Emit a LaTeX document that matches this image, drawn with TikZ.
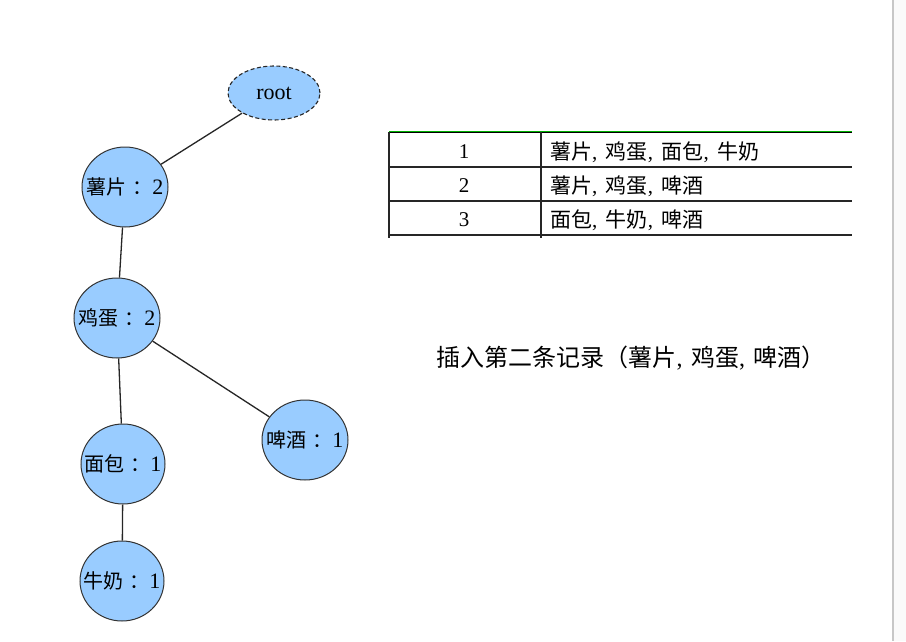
\documentclass[tikz,border=0pt]{standalone}
\usepackage{fontspec}
\usetikzlibrary{shapes.geometric}
\setmainfont{Liberation Serif}
\newfontfamily\cjk{Noto Sans CJK SC}
\definecolor{bluefill}{RGB}{153,204,255}
\newcommand{\lbl}[2]{\makebox[0pt]{{\cjk #1}\hspace{0.28em}{\cjk ：}{\fontsize{22}{24}\selectfont #2}}}
\begin{document}
\begin{tikzpicture}[x=1pt,y=-1pt,
  tnode/.style={ellipse,draw=black!80,fill=bluefill,line width=1pt,minimum width=86pt,minimum height=80pt,inner sep=0pt,font=\fontsize{20}{22}\selectfont},
  edge/.style={draw=black!85,line width=1.3pt},
  cell/.style={font=\fontsize{21}{24}\selectfont,inner sep=0pt}]
\useasboundingbox (0,0) rectangle (906,641);
\fill[white] (0,0) rectangle (906,641);
\fill[black!2] (893,0) rectangle (906,641);
\draw[black!22,line width=2pt] (893,0) -- (893,641);
% tree
\node[ellipse,draw=black!85,dash pattern=on 4pt off 2.5pt,fill=bluefill,line width=1.1pt,minimum width=92pt,minimum height=54pt,inner sep=0pt,font=\fontsize{22}{24}\selectfont] (root) at (274,93) {\makebox[0pt]{root}};
\node[tnode] (a) at (125,187) {\lbl{薯片}{2}};
\node[tnode] (b) at (117,318) {\lbl{鸡蛋}{2}};
\node[tnode,minimum width=84pt] (c) at (123,464) {\lbl{面包}{1}};
\node[tnode,minimum width=84pt] (d) at (122,581) {\lbl{牛奶}{1}};
\node[tnode] (e) at (305,440) {\lbl{啤酒}{1}};
\draw[edge] (root) -- (a);
\draw[edge] (a) -- (b);
\draw[edge] (b) -- (c);
\draw[edge] (b) -- (e);
\draw[edge] (c) -- (d);
% table
\draw[black,line width=1.3pt] (389,132) -- (852,132);
\draw[green!70!black,line width=0.6pt] (389,131) -- (852,131);
\draw[black!85,line width=1.2pt] (389,167) -- (852,167);
\draw[black!85,line width=1.2pt] (389,201) -- (852,201);
\draw[black!85,line width=1.2pt] (389,235) -- (852,235);
\draw[black!85,line width=1.2pt] (389,132) -- (389,238);
\draw[black!85,line width=1.2pt] (541,132) -- (541,238);
\node[cell] (n1) at (464,152) {1};
\node[cell] (n2) at (464,186) {2};
\node[cell] (n3) at (464,220) {3};
\node[cell,anchor=west] (r1) at (550,152) {{\cjk 薯片},\hspace{0.4em}{\cjk 鸡蛋},\hspace{0.4em}{\cjk 面包},\hspace{0.4em}{\cjk 牛奶}};
\node[cell,anchor=west] (r2) at (550,186) {{\cjk 薯片},\hspace{0.4em}{\cjk 鸡蛋},\hspace{0.4em}{\cjk 啤酒}};
\node[cell,anchor=west] (r3) at (550,220) {{\cjk 面包},\hspace{0.4em}{\cjk 牛奶},\hspace{0.4em}{\cjk 啤酒}};
% caption
\node[font=\fontsize{24}{26}\selectfont,inner sep=0pt] (cap) at (631,358) {{\cjk 插入第二条记录（薯片},\hspace{0.35em}{\cjk 鸡蛋},\hspace{0.35em}{\cjk 啤酒）}};
\end{tikzpicture}
\end{document}
